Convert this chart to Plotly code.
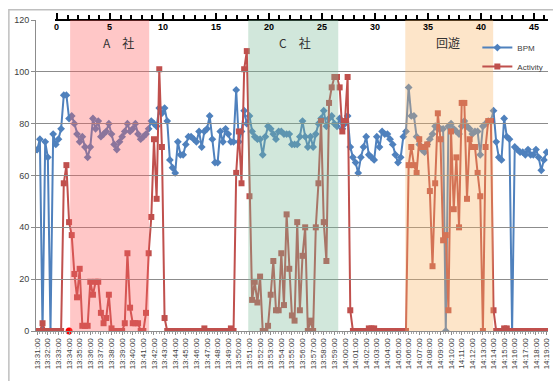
import pandas as pd
import plotly.graph_objects as go

# ---------------- data ----------------
START = "2000-01-01 13:31:00"
STEP = "15s"

BPM = [
    70, 74, 0, 73, 67, 0, 76, 72, 74, 78,
    91, 91, 82, 83, 80, 76, 73, 75, 71, 67,
    71, 82, 78, 81, 75, 76, 77, 80, 76, 72,
    70, 73, 75, 77, 80, 77, 78, 80, 76, 74,
    75, 76, 78, 81, 80, 79, 86, 84, 86, 81,
    66, 63, 61, 73, 68, 68, 72, 75, 75, 74,
    73, 77, 71, 77, 78, 83, 74, 65, 65, 77,
    73, 78, 76, 73, 73, 93, 73, 77, 85, 80,
    83, 77, 75, 74, 74, 68, 75, 79, 78, 76,
    74, 77, 77, 76, 76, 76, 72, 72, 72, 75,
    81, 75, 71, 75, 71, 76, 80, 82, 85, 79,
    82, 83, 80, 79, 82, 78, 80, 83, 71, 67,
    65, 61, 67, 71, 75, 68, 67, 66, 75, 71,
    77, 76, 76, 74, 72, 68, 65, 67, 75, 77,
    94, 83, 83, 75, 72, 70, 69, 72, 74, 76,
    79, 78, 78, 78, 0, 79, 80, 78, 77, 76,
    79, 81, 79, 78, 76, 77, 77, 68, 79, 80,
    81, 81, 85, 73, 67, 66, 82, 75, 74, 0,
    71, 70, 69, 69, 68, 70, 68, 68, 70, 67,
    62, 66, 69,
]

ACTIVITY = [
    0, 0, 3, 0, 0, 0, 0, 0, 0, 0,
    57, 64, 42, 37, 22, 13, 24, 2, 2, 2,
    19, 14, 19, 19, 7, 3, 5, 14, 1, 0,
    0, 0, 0, 3, 30, 9, 3, 3, 3, 0,
    0, 7, 30, 44, 74, 51, 101, 71, 5, 0,
    0, 0, 0, 0, 0, 0, 0, 0, 0, 0,
    0, 0, 0, 1, 0, 0, 0, 0, 0, 0,
    0, 0, 0, 1, 0, 61, 77, 57, 101, 108,
    52, 12, 19, 11, 21, 0, 0, 2, 14, 27,
    8, 8, 30, 10, 45, 24, 6, 4, 42, 8,
    29, 40, 0, 4, 0, 40, 57, 81, 42, 27,
    88, 94, 98, 98, 94, 77, 81, 98, 8, 0,
    0, 0, 0, 0, 0, 1, 1, 1, 0, 0,
    0, 0, 0, 0, 0, 0, 0, 0, 0, 0,
    64, 71, 64, 61, 74, 71, 71, 72, 54, 25,
    57, 84, 74, 35, 37, 8, 77, 47, 67, 40,
    88, 88, 51, 74, 71, 71, 61, 52, 0, 71,
    81, 81, 8, 0, 0, 0, 1, 1, 0, 0,
    0, 0, 0, 0, 0, 0, 0, 0, 0, 0,
    0, 0, 0,
]

MARK_TIME = ["2000-01-01 13:34:00"]
MARK_VALUE = [0]

TOP_TICKS = list(range(0, 47))
TOP_LABELS = [0, 5, 10, 15, 20, 25, 30, 35, 40, 45]

REGION_LABELS = ["A　社", "C　社", "回遊"]
REGION_START = ["2000-01-01 13:34:06", "2000-01-01 13:50:53", "2000-01-01 14:05:41"]
REGION_END = ["2000-01-01 13:41:33", "2000-01-01 13:59:22", "2000-01-01 14:13:58"]
REGION_LABEL_AT = ["2000-01-01 13:38:40", "2000-01-01 13:55:20", "2000-01-01 14:09:40"]
REGION_COLORS = ["rgb(255,95,95)", "rgb(124,186,152)", "rgb(249,181,100)"]

times = pd.date_range(START, periods=len(BPM), freq=STEP)

# ---------------- figure ----------------
fig = go.Figure()

fig.add_trace(go.Scatter(
    x=times, y=BPM, name="BPM", mode="lines+markers",
    line=dict(color="#4F81BD", width=2),
    marker=dict(symbol="diamond", size=6, color="#4F81BD"),
))
fig.add_trace(go.Scatter(
    x=times, y=ACTIVITY, name="Activity", mode="lines+markers",
    line=dict(color="#C0504D", width=2),
    marker=dict(symbol="square", size=6, color="#C0504D"),
))
fig.add_trace(go.Scatter(
    x=pd.to_datetime(MARK_TIME), y=MARK_VALUE, mode="markers", showlegend=False,
    marker=dict(symbol="circle", size=7, color="#FF0000"), hoverinfo="skip",
    cliponaxis=False,
))
# top minute axis (carrier trace, no visible marks)
fig.add_trace(go.Scatter(
    x=TOP_TICKS, y=[None] * len(TOP_TICKS), xaxis="x2", yaxis="y",
    showlegend=False, hoverinfo="skip", mode="markers",
))

for lab, s, e, c, at in zip(REGION_LABELS, REGION_START, REGION_END, REGION_COLORS, REGION_LABEL_AT):
    fig.add_shape(type="rect", xref="x", yref="y", x0=s, x1=e, y0=0, y1=120,
                  fillcolor=c, opacity=0.35, line=dict(width=0), layer="above")
    fig.add_annotation(x=at, y=111.5, xref="x", yref="y", text=lab, showarrow=False,
                       font=dict(size=12, color="#333333",
                                 family="Noto Sans CJK JP, Liberation Sans"))

for t in TOP_LABELS:
    fig.add_annotation(x=t, y=1.0, xref="x2", yref="paper", yanchor="top", yshift=0,
                       text=str(t), showarrow=False,
                       font=dict(size=9, color="black", weight="bold",
                                 family="Liberation Sans, Arial"))

# outer chart border
fig.add_shape(type="rect", xref="paper", yref="paper",
              x0=-0.053, x1=1.05, y0=-0.3, y1=1.033,
              line=dict(color="#BFBFBF", width=1.5), fillcolor="rgba(0,0,0,0)", layer="below")

fig.update_layout(
    width=553, height=381,
    margin=dict(l=36, r=5, t=20, b=50, autoexpand=False),
    paper_bgcolor="white", plot_bgcolor="rgba(0,0,0,0)",
    font=dict(family="Liberation Sans, Arial, sans-serif", color="#404040"),
    showlegend=True,
    legend=dict(x=0.862, y=0.958, xanchor="left", yanchor="top",
                bgcolor="rgba(0,0,0,0)",
                font=dict(size=8, color="#404040", family="Liberation Sans Narrow, Liberation Sans"),
                itemwidth=30, tracegroupgap=0),
    xaxis=dict(
        type="date", automargin=False,
        range=["2000-01-01 13:30:53", "2000-01-01 14:19:08"],
        tick0=START, dtick=60000, tickformat="%H:%M:%S", tickangle=-90,
        tickfont=dict(size=8, color="#404040"),
        showgrid=False, zeroline=False,
        showline=True, linecolor="#8C8C8C", linewidth=1,
        ticks="outside", ticklen=3, tickcolor="#8C8C8C",
        minor=dict(dtick=15000, ticks="outside", ticklen=2, tickcolor="#A6A6A6"),
    ),
    xaxis2=dict(
        domain=[0.037, 1.0], anchor="free", position=1.0, side="top", automargin=False,
        range=[-0.19, 46.36], tick0=0, dtick=5,
        showgrid=False, zeroline=False, showticklabels=False,
        showline=True, linecolor="black", linewidth=2,
        ticks="outside", ticklen=6, tickwidth=2, tickcolor="black",
        minor=dict(dtick=1, ticks="outside", ticklen=4, tickwidth=1.5, tickcolor="black"),
    ),
    yaxis=dict(
        range=[0, 120], dtick=20, automargin=False,
        showgrid=True, gridcolor="#8C8C8C", gridwidth=1,
        zeroline=False, showline=True, linecolor="#8C8C8C",
        ticks="outside", ticklen=4, tickcolor="#8C8C8C",
        tickfont=dict(size=9, color="#404040"),
    ),
)

fig.write_html("out.html", post_script="document.body.style.margin='0';",
               config={"displayModeBar": False})
